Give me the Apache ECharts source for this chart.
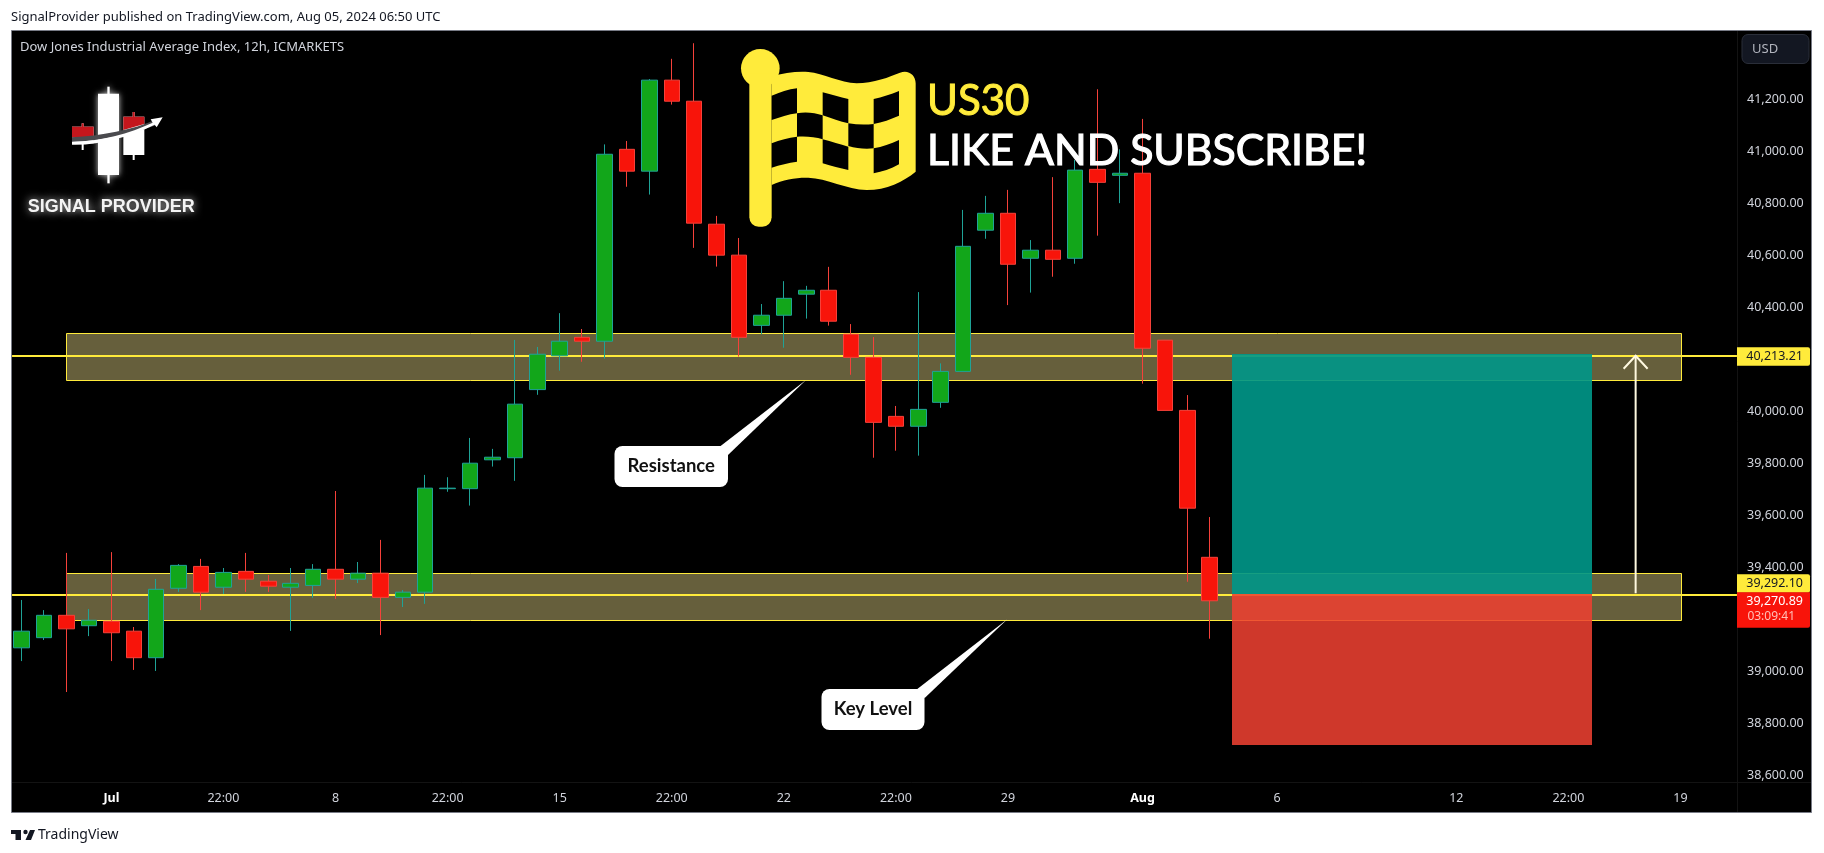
<!DOCTYPE html>
<html>
<head>
<meta charset="utf-8">
<style>html,body{margin:0;padding:0;background:#fff}#c{width:1824px;height:853px}</style>
<script src="https://cdn.jsdelivr.net/npm/echarts@6/dist/echarts.min.js"></script>
</head>
<body>
<div id="c"></div>
<script>
const sessionDays = ['Jun 27','Jun 28','Jul 1','Jul 2','Jul 3','Jul 4','Jul 5','Jul 8','Jul 9','Jul 10','Jul 11','Jul 12','Jul 15','Jul 16','Jul 17','Jul 18','Jul 19','Jul 22','Jul 23','Jul 24','Jul 25','Jul 26','Jul 29','Jul 30','Jul 31','Aug 1','Aug 2','Aug 5','Aug 6','Aug 7','Aug 8','Aug 9','Aug 12','Aug 13','Aug 14','Aug 15','Aug 16','Aug 19','Aug 20'];
const categories = sessionDays.flatMap(d => [d + ' 10:00', d + ' 22:00']).slice(0, 77);
const tickCategories = ['Jul 1 10:00','Jul 3 22:00','Jul 8 10:00','Jul 10 22:00','Jul 15 10:00','Jul 17 22:00','Jul 22 10:00','Jul 24 22:00','Jul 29 10:00','Aug 1 10:00','Aug 6 10:00','Aug 12 10:00','Aug 14 22:00','Aug 19 10:00'];
const tickLabels = ['Jul','22:00','8','22:00','15','22:00','22','22:00','29','Aug','6','12','22:00','19'];
const priceTicks = [41200,41000,40800,40600,40400,40000,39800,39600,39400,39000,38800,38600];

const opens  = [39090,39129,39215,39175,39192,39154,39052,39319,39403,39323,39384,39346,39323,39330,39392,39354,39377,39284,39304,39702,39702,39813,39821,40083,40213,40284,40269,41007,40923,41273,41192,40719,40600,40330,40369,40450,40465,40296,40207,39980,39942,40034,40153,40696,40761,40588,40619,40588,40930,40907,40915,40273,40003,39438];
const closes = [39154,39215,39163,39196,39148,39052,39315,39407,39304,39380,39354,39327,39338,39392,39354,39377,39284,39304,39704,39704,39800,39823,40027,40219,40269,40269,40988,40923,41273,41192,40723,40600,40284,40369,40434,40465,40346,40207,39957,39942,40007,40153,40634,40761,40565,40619,40584,40927,40880,40915,40242,40003,39627,39270.89];
const lows   = [39039,39120,38920,39135,39039,39005,39001,39305,39235,39297,39305,39305,39155,39282,39278,39339,39139,39247,39259,39690,39637,39787,39732,40063,40156,40190,40202,40863,40833,41179,40628,40556,40210,40296,40244,40356,40329,40140,39821,39848,39829,40013,40153,40663,40408,40456,40517,40567,40675,40800,40106,40003,39344,39125];
const highs  = [39274,39235,39455,39239,39458,39170,39355,39412,39432,39397,39455,39370,39397,39412,39693,39420,39505,39312,39755,39746,39897,39855,40274,40247,40377,40316,41026,41039,41277,41355,41415,40751,40666,40412,40500,40482,40555,40335,40285,40020,40458,40184,40774,40828,40851,40658,40900,40966,41238,41007,41124,40273,40062,39593];

const bandSpan = [1.98, 74.05];
const upperBand = [40300, 40121];
const lowerBand = [39377, 39196];
const levelSpan = [-0.43, 76.52];
const targetPrice = 40213.21;
const entryPrice = 39292.10;
const stopPrice = 38716;
const positionSpan = [53.99, 70.03];
const arrowX = 72;
const lastPrice = 39270.89;

const YELLOW = '#ffeb3b';
const FONT = '"Noto Sans", sans-serif';

const crisp = v => Math.round(v) + 0.5;

const bandSeries = {
  type: 'custom', xAxisIndex: 1, yAxisIndex: 0, z: 1, silent: true, clip: false,
  encode: { x: 0, y: 2 },
  data: [[bandSpan[0], bandSpan[1], upperBand[0], upperBand[1]], [bandSpan[0], bandSpan[1], lowerBand[0], lowerBand[1]]],
  renderItem(params, api) {
    const a = api.coord([api.value(0), api.value(2)]);
    const b = api.coord([api.value(1), api.value(3)]);
    return { type: 'rect',
      shape: { x: crisp(a[0]), y: crisp(a[1]), width: Math.round(b[0] - a[0]), height: Math.round(b[1] - a[1]) },
      style: { fill: '#665f3c', stroke: YELLOW, lineWidth: 1 } };
  }
};
const levelSeries = {
  type: 'custom', xAxisIndex: 1, yAxisIndex: 0, z: 1.5, silent: true, clip: false,
  encode: { x: 0, y: 1 },
  data: [[levelSpan[0], targetPrice], [levelSpan[0], entryPrice]],
  renderItem(params, api) {
    const a = api.coord([levelSpan[0], api.value(1)]);
    const b = api.coord([levelSpan[1], api.value(1)]);
    const y = Math.round(a[1]);
    return { type: 'line', shape: { x1: a[0], y1: y, x2: b[0], y2: y }, style: { stroke: YELLOW, lineWidth: 2 } };
  }
};
const positionSeries = {
  type: 'custom', xAxisIndex: 1, yAxisIndex: 0, z: 3, silent: true, clip: false,
  encode: { x: 0, y: 2 },
  data: [[positionSpan[0], positionSpan[1], targetPrice, entryPrice], [positionSpan[0], positionSpan[1], entryPrice, stopPrice]],
  renderItem(params, api) {
    const a = api.coord([api.value(0), api.value(2)]);
    const b = api.coord([api.value(1), api.value(3)]);
    const first = params.dataIndex === 0;
    const fill = first ? 'rgba(0,150,136,0.913)' : 'rgba(238,64,49,0.87)';
    const y0 = Math.round(a[1]) - (first ? 2 : 1);
    const y1 = Math.round(b[1]) - (first ? 1 : 0);
    return { type: 'rect', shape: { x: Math.round(a[0]), y: y0, width: Math.round(b[0] - a[0]), height: y1 - y0 }, style: { fill } };
  }
};
const arrowSeries = {
  type: 'custom', xAxisIndex: 1, yAxisIndex: 0, z: 4, silent: true, clip: false,
  encode: { x: 0, y: 1 },
  data: [[arrowX, entryPrice, targetPrice]],
  renderItem(params, api) {
    const a = api.coord([api.value(0), api.value(1)]);
    const b = api.coord([api.value(0), api.value(2)]);
    const st = { stroke: '#fff9e0', lineWidth: 2, fill: null };
    return { type: 'group', children: [
      { type: 'line', shape: { x1: a[0], y1: a[1] - 2, x2: b[0], y2: b[1] }, style: st },
      { type: 'polyline', shape: { points: [[b[0] - 12, b[1] + 13], [b[0], b[1]], [b[0] + 12, b[1] + 13]] }, style: st }
    ] };
  }
};
const tagTexts = ['40,213.21', '39,292.10', '39,270.89'];
const tagSeries = {
  type: 'custom', xAxisIndex: 1, yAxisIndex: 0, z: 6, silent: true, clip: false,
  encode: { x: 0, y: 1 },
  data: [[76.5, targetPrice], [76.5, entryPrice], [76.5, lastPrice]],
  renderItem(params, api) {
    const c = api.coord([76.5, api.value(1)]);
    const i = params.dataIndex;
    const x = 1737, w = 73;
    const textStyle = (text, y, fill) => ({ type: 'text', style: { text, x: 1803, y, fill, font: '12.5px ' + FONT, textAlign: 'right', textVerticalAlign: 'middle' } });
    if (i === 0) return { type: 'group', children: [
      { type: 'rect', shape: { x, y: c[1] - 8.5, width: w, height: 18.5, r: [0, 2, 2, 0] }, style: { fill: YELLOW } },
      textStyle(tagTexts[0], c[1] + 0.5, '#131722') ] };
    if (i === 1) return { type: 'group', children: [
      { type: 'rect', shape: { x, y: c[1] - 21, width: w, height: 18.5, r: [0, 2, 2, 0] }, style: { fill: YELLOW } },
      textStyle(tagTexts[1], c[1] - 12, '#131722') ] };
    return { type: 'group', children: [
      { type: 'rect', shape: { x, y: c[1] - 8.5, width: w, height: 35.5, r: [0, 0, 2, 0] }, style: { fill: '#f8140a' } },
      textStyle(tagTexts[2], c[1] + 0.5, '#ffffff'),
      { type: 'text', style: { text: '03:09:41', x: 1795, y: c[1] + 15.5, fill: '#ffc0b8', font: '12px ' + FONT, textAlign: 'right', textVerticalAlign: 'middle' } } ] };
  }
};

const glow = { shadowBlur: 6, shadowColor: 'rgba(255,255,255,0.8)' };
const RED = '#c4161c';
const logoChildren = [
  { type: 'rect', shape: { x: 322, y: 260, width: 7, height: 290 }, style: { fill: '#fff', ...glow } },
  { type: 'rect', shape: { x: 294, y: 281, width: 63, height: 244 }, style: { fill: '#fff', ...glow } },
  { type: 'rect', shape: { x: 245, y: 370, width: 6, height: 80 }, style: { fill: '#fff' } },
  { type: 'rect', shape: { x: 216, y: 380, width: 65, height: 50 }, style: { fill: '#fff' } },
  { type: 'rect', shape: { x: 245, y: 370, width: 6, height: 15 }, style: { fill: RED } },
  { type: 'rect', shape: { x: 216, y: 380, width: 65, height: 33 }, style: { fill: RED } },
  { type: 'rect', shape: { x: 398, y: 336, width: 6, height: 144 }, style: { fill: '#fff' } },
  { type: 'rect', shape: { x: 370, y: 350, width: 63, height: 115 }, style: { fill: '#fff' } },
  { type: 'rect', shape: { x: 398, y: 336, width: 6, height: 20 }, style: { fill: RED } },
  { type: 'path', shape: { pathData: 'M370 350 L433 350 L433 372 L370 390 Z' }, style: { fill: RED } },
  { type: 'path', shape: { pathData: 'M216 412 C300 408,400 390,470 358 L470 375 C400 400,300 425,216 425 Z' }, style: { fill: '#4a4a4e' } },
  { type: 'path', shape: { pathData: 'M216 426 C300 424,390 400,458 368 L452 358 L488 352 L470 382 L464 374 C390 410,300 436,216 434 Z' }, style: { fill: '#fff' } },
  { type: 'text', style: { text: 'SIGNAL PROVIDER', x: 83, y: 622, fill: '#f4f4f4', font: 'bold 54px "Liberation Sans", sans-serif', textAlign: 'left', textVerticalAlign: 'middle', textShadowBlur: 8, textShadowColor: 'rgba(255,255,255,0.85)' } }
];
const flagWindows = [
  'M965 197 C990 187,1015 178,1041 175 L1041 250 C1015 253,990 262,965 270 Z',
  'M1118 187 C1145 194,1170 202,1195 207 L1195 280 C1170 275,1145 265,1118 256 Z',
  'M1271 207 C1297 202,1322 193,1347 183 L1347 257 C1322 268,1297 277,1271 282 Z',
  'M1041 250 C1065 245,1095 248,1118 256 L1118 328 C1095 320,1065 318,1041 320 Z',
  'M1195 280 C1220 284,1245 285,1271 282 L1271 355 C1245 358,1220 355,1195 348 Z',
  'M965 340 C990 330,1015 323,1041 320 L1041 395 C1015 398,990 405,965 413 Z',
  'M1118 328 C1145 335,1170 343,1195 350 L1195 420 C1170 415,1145 408,1118 400 Z',
  'M1271 355 C1297 350,1322 342,1347 330 L1347 403 C1322 417,1297 425,1271 430 Z'
];
const flagChildren = [
  { type: 'circle', shape: { cx: 931, cy: 115, r: 58 }, style: { fill: YELLOW } },
  { type: 'rect', shape: { x: 898, y: 130, width: 67, height: 460, r: [0, 0, 28, 28] }, style: { fill: YELLOW } },
  { type: 'path', shape: { pathData: 'M965 140 C1000 128,1040 124,1075 126 C1120 130,1170 158,1220 160 C1270 160,1320 140,1350 128 C1375 118,1397 135,1397 160 L1397 425 C1360 455,1310 480,1250 480 C1190 478,1130 445,1075 443 C1040 442,1000 448,965 465 Z' }, style: { fill: YELLOW } },
  ...flagWindows.map(d => ({ type: 'path', shape: { pathData: d }, style: { fill: '#000' } }))
];
const decorSeries = {
  type: 'custom', xAxisIndex: 1, yAxisIndex: 0, z: 5, silent: true, clip: false,
  encode: { x: 0, y: 1 },
  data: [[0, 40000]],
  renderItem() {
    return { type: 'group', children: [
      { type: 'group', x: 0, y: 0, scaleX: 1 / 3, scaleY: 1 / 3, children: logoChildren },
      { type: 'group', x: 450, y: 30, scaleX: 1 / 3, scaleY: 1 / 3, children: flagChildren },
      { type: 'path', shape: { pathData: 'M11 830 L21 830 L21 840 L15.5 840 L15.5 834 L11 834 Z M30 830 L35 830 L31 840 L25.5 840 Z' }, style: { fill: '#131722' } },
      { type: 'circle', shape: { cx: 25.5, cy: 832, r: 2.2 }, style: { fill: '#131722' } }
    ] };
  }
};
function callout(box, base, tip, text, font) {
  return [
    { type: 'polygon', z: 10, silent: true, shape: { points: [base[0], tip, base[1]] }, style: { fill: '#fff' } },
    { type: 'rect', z: 10, silent: true, shape: { x: box[0], y: box[1], width: box[2], height: box[3], r: 8 }, style: { fill: '#fff' } },
    { type: 'text', z: 11, silent: true, style: { text, x: box[0] + box[2] / 2, y: box[1] + box[3] / 2, fill: '#111', font, textAlign: 'center', textVerticalAlign: 'middle' } }
  ];
}
const graphics = [
  { type: 'rect', z: 0, silent: true, shape: { x: 11.5, y: 30.5, width: 1800, height: 782 }, style: { fill: '#000', stroke: '#787b86', lineWidth: 1 } },
  { type: 'line', z: 0, silent: true, shape: { x1: 1737.5, y1: 31, x2: 1737.5, y2: 812 }, style: { stroke: '#131313', lineWidth: 1 } },
  { type: 'line', z: 0, silent: true, shape: { x1: 12, y1: 782.5, x2: 1811, y2: 782.5 }, style: { stroke: '#131313', lineWidth: 1 } },
  { type: 'text', z: 1, silent: true, style: { text: 'SignalProvider published on TradingView.com, Aug 05, 2024 06:50 UTC', x: 11, y: 17, fill: '#131722', font: '13px ' + FONT, textAlign: 'left', textVerticalAlign: 'middle' } },
  { type: 'text', z: 1, silent: true, style: { text: 'Dow Jones Industrial Average Index, 12h, ICMARKETS', x: 20, y: 47, fill: '#d1d4dc', font: '13px ' + FONT, textAlign: 'left', textVerticalAlign: 'middle' } },
  { type: 'rect', z: 1, silent: true, shape: { x: 1742, y: 34.5, width: 67, height: 29, r: 6 }, style: { fill: '#131722', stroke: '#2a2e39', lineWidth: 1 } },
  { type: 'text', z: 2, silent: true, style: { text: 'USD', x: 1752, y: 49, fill: '#b2b5be', font: '13px ' + FONT, textAlign: 'left', textVerticalAlign: 'middle' } },
  { type: 'text', z: 12, silent: true, style: { text: 'US30', x: 927, y: 101, fill: YELLOW, stroke: YELLOW, lineWidth: 1, font: '42px Lato, sans-serif', textAlign: 'left', textVerticalAlign: 'middle' } },
  { type: 'text', z: 12, silent: true, style: { text: 'LIKE AND SUBSCRIBE!', x: 927, y: 151, fill: '#fff', stroke: '#fff', lineWidth: 1.2, font: '42.8px Lato, sans-serif', textAlign: 'left', textVerticalAlign: 'middle' } },
  ...callout([614.5, 446, 113.5, 41], [[719.3, 447], [728, 455]], [806, 380], 'Resistance', 'bold 18.5px Lato, sans-serif'),
  ...callout([821.5, 689, 103, 41], [[916, 690], [924.7, 698]], [1007.3, 619.3], 'Key Level', 'bold 18.5px Lato, sans-serif'),
  { type: 'text', z: 1, silent: true, style: { text: 'TradingView', x: 38, y: 835, fill: '#131722', font: '14px ' + FONT, textAlign: 'left', textVerticalAlign: 'middle' } }
];

const chart = echarts.init(document.getElementById('c'), null, { renderer: 'canvas' });
chart.setOption({
  animation: false,
  backgroundColor: '#ffffff',
  tooltip: { show: false },
  grid: { left: 10.5, top: 31, width: 1726, height: 751, containLabel: false },
  xAxis: [
    { type: 'category', data: categories, boundaryGap: true, position: 'bottom',
      axisLine: { show: false }, axisTick: { show: false }, splitLine: { show: false },
      axisLabel: { margin: 10, color: '#d1d4dc', fontFamily: 'Noto Sans', fontSize: 12.5, hideOverlap: false,
        interval: (i, v) => tickCategories.includes(v),
        formatter: v => { const k = tickCategories.indexOf(v); if (k < 0) return ''; const t = tickLabels[k]; return (t === 'Jul' || t === 'Aug') ? '{b|' + t + '}' : t; },
        rich: { b: { fontWeight: 'bold', color: '#ffffff', fontFamily: 'Noto Sans', fontSize: 12.5 } } } },
    { type: 'value', show: false, min: -0.5, max: 76.5 }
  ],
  yAxis: { type: 'value', position: 'right', min: 38574, max: 41462, scale: true,
    axisLine: { show: false }, axisTick: { show: false }, splitLine: { show: false },
    axisLabel: { customValues: priceTicks, margin: 10.5, color: '#d1d4dc', fontFamily: 'Noto Sans', fontSize: 12.5,
      formatter: v => v.toLocaleString('en-US', { minimumFractionDigits: 2, maximumFractionDigits: 2 }) } },
  graphic: { elements: graphics },
  series: [
    bandSeries, levelSeries,
    { type: 'candlestick', xAxisIndex: 0, yAxisIndex: 0, z: 2, barWidth: 16, silent: true, clip: false,
      data: opens.map((o, i) => [o, closes[i], lows[i], highs[i]]),
      itemStyle: { color: '#12a61a', color0: '#f8140a', borderColor: '#1fa397', borderColor0: '#f6413a', borderWidth: 1 } },
    positionSeries, arrowSeries, tagSeries, decorSeries
  ]
});
</script>
</body>
</html>
